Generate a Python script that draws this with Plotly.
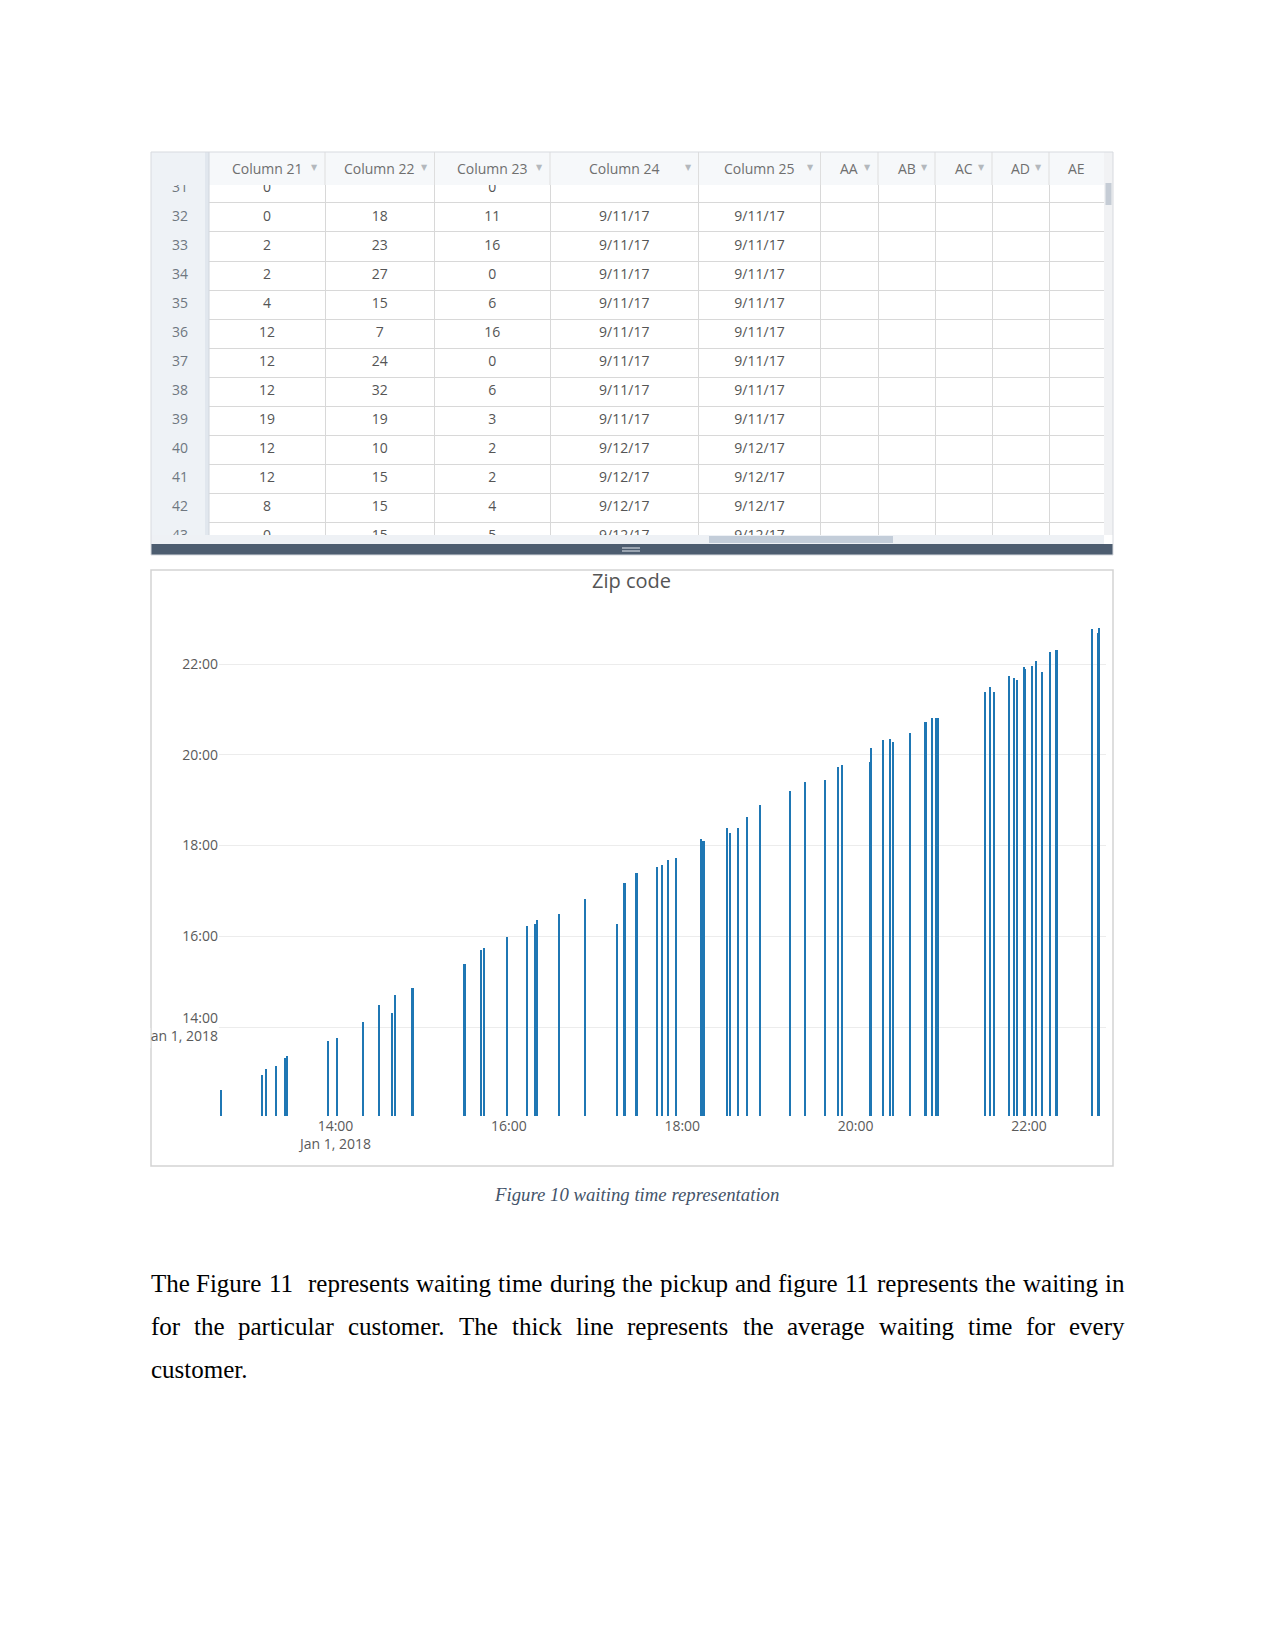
import plotly.graph_objects as go

W, H = 1275, 1650


def fx(p):
    return p / W


def fy(p):
    return 1 - p / H


# ---------------- Spreadsheet data ----------------
row_numbers = [31, 32, 33, 34, 35, 36, 37, 38, 39, 40, 41, 42, 43]
column_21 = ["0", "0", "2", "2", "4", "12", "12", "12", "19", "12", "12", "8", "0"]
column_22 = ["", "18", "23", "27", "15", "7", "24", "32", "19", "10", "15", "15", "15"]
column_23 = ["0", "11", "16", "0", "6", "16", "0", "6", "3", "2", "2", "4", "5"]
column_24 = ["", "9/11/17", "9/11/17", "9/11/17", "9/11/17", "9/11/17", "9/11/17",
             "9/11/17", "9/11/17", "9/12/17", "9/12/17", "9/12/17", "9/12/17"]
column_25 = ["", "9/11/17", "9/11/17", "9/11/17", "9/11/17", "9/11/17", "9/11/17",
             "9/11/17", "9/11/17", "9/12/17", "9/12/17", "9/12/17", "9/12/17"]
header_labels = ["Column 21", "Column 22", "Column 23", "Column 24", "Column 25",
                 "AA", "AB", "AC", "AD", "AE"]

# ---------------- Chart data (x: request time, y: pickup time) ----------------
request_time = [
    "12:41", "13:09", "13:12", "13:19", "13:25:30", "13:26:30", "13:55", "14:01",
    "14:19", "14:30", "14:39", "14:41", "14:53", "14:53:50", "15:29", "15:29:50",
    "15:41", "15:43", "15:59", "16:13", "16:18:30", "16:19:20", "16:35", "16:53",
    "17:15", "17:20", "17:20:50", "17:28", "17:28:50", "17:43", "17:46", "17:50",
    "17:56", "18:13", "18:14", "18:15", "18:31", "18:33", "18:39", "18:45",
    "18:54", "19:15", "19:25", "19:39", "19:48", "19:51", "20:10", "20:11",
    "20:19", "20:24", "20:26", "20:38", "20:48", "20:48:50", "20:53", "20:56",
    "20:56:50", "21:30", "21:33", "21:36", "21:46", "21:50", "21:52", "21:56:50",
    "21:57:40", "22:02", "22:05", "22:09", "22:15", "22:19", "22:19:50", "22:43:30",
    "22:48:10", "22:48:50",
]
pickup_time = [
    "12:37", "12:56", "13:04", "13:09", "13:19", "13:22", "13:41", "13:45",
    "14:06", "14:29", "14:19", "14:42", "14:51", "14:51", "15:23", "15:23",
    "15:42", "15:44", "15:59", "16:13", "16:16", "16:21", "16:29", "16:49",
    "16:16", "17:11", "17:11", "17:24", "17:24", "17:31", "17:34", "17:41",
    "17:44", "18:08", "18:06", "18:06", "18:23", "18:17", "18:23", "18:38",
    "18:54", "19:12", "19:24", "19:27", "19:44", "19:46", "19:51", "20:09",
    "20:19", "20:21", "20:17", "20:29", "20:43", "20:43", "20:48", "20:48",
    "20:48", "21:23", "21:29", "21:23", "21:44", "21:41", "21:39", "21:56",
    "21:53", "21:57", "22:04", "21:49", "22:16", "22:19", "22:19", "22:46",
    "22:41", "22:47",
]
DAY = "2018-01-01 "

# ---------------- Text ----------------
chart_title = "Zip code"
caption_text = "Figure 10 waiting time representation"
body_lines = [
    "The Figure 11  represents waiting time during the pickup and figure 11 represents the waiting in",
    "for the particular customer. The thick line represents the average waiting time for every",
    "customer.",
]
body_justified = [True, True, False]

# ---------------- Layout constants (pixels) ----------------
col_bounds = [209, 325, 434.5, 550, 698.5, 820.5, 878, 935, 992, 1049, 1104]
TEXT_LEFT, TEXT_RIGHT = 150.5, 1124.5
BODY_SIZE = 25
body_y = [1283.5, 1326.5, 1369.5]

# Times-Roman advance widths (per 1000 em) used for justifying body lines
TIMES_W = {
    " ": 250, ".": 250, "1": 500, "T": 611, "F": 556,
    "a": 444, "c": 444, "d": 500, "e": 444, "f": 333, "g": 500, "h": 500,
    "i": 278, "k": 500, "l": 278, "m": 778, "n": 500, "o": 500, "p": 500,
    "r": 333, "s": 389, "t": 278, "u": 500, "v": 500, "w": 722, "y": 500,
}


def word_width(word, size):
    return sum(TIMES_W.get(ch, 500) for ch in word) / 1000.0 * size


def layout_line(line, justify, size):
    tokens = line.split(" ")
    n_gaps = len(tokens) - 1
    space = TIMES_W[" "] / 1000.0 * size
    words_w = sum(word_width(t, size) for t in tokens)
    natural = words_w + n_gaps * space
    gap = space
    if justify and n_gaps > 0:
        gap = space + (TEXT_RIGHT - TEXT_LEFT - natural) / n_gaps
    out = []
    x = TEXT_LEFT
    for t in tokens:
        if t:
            out.append((t, x))
        x += word_width(t, size) + gap
    return out


UI_FONT = "Open Sans"
CELL_COLOR = "#555555"

fig = go.Figure()

# ---- spreadsheet cells ----
columns = [column_21, column_22, column_23, column_24, column_25]
for i, values in enumerate(columns):
    cx = (col_bounds[i] + col_bounds[i + 1]) / 2
    fig.add_trace(go.Scatter(
        x=[cx] * len(row_numbers), y=row_numbers, text=values, mode="text",
        textfont=dict(family=UI_FONT, size=14, color=CELL_COLOR),
        xaxis="x2", yaxis="y2", hoverinfo="skip", showlegend=False, cliponaxis=True,
    ))
fig.add_trace(go.Scatter(
    x=[0.5] * len(row_numbers), y=row_numbers, text=[str(r) for r in row_numbers],
    mode="text", textfont=dict(family=UI_FONT, size=14, color="#6f7780"),
    xaxis="x3", yaxis="y3", hoverinfo="skip", showlegend=False, cliponaxis=True,
))

# ---- bar chart ----
fig.add_trace(go.Bar(
    x=[DAY + t for t in request_time], y=[DAY + t for t in pickup_time],
    width=[60000] * len(request_time), marker=dict(color="#1f77b4", line=dict(width=0)),
    xaxis="x", yaxis="y", showlegend=False, hoverinfo="skip",
))

row_top, row_bottom = 30.88, 42.946
axis_font = dict(family=UI_FONT, size=14, color="#5a5a5a")

fig.update_layout(
    width=W, height=H, margin=dict(l=0, r=0, t=0, b=0),
    paper_bgcolor="white", plot_bgcolor="rgba(0,0,0,0)",
    showlegend=False, bargap=0,
    xaxis=dict(
        type="date", domain=[fx(219), fx(1106)],
        range=["2018-01-01 12:39:22", "2018-01-01 22:53:18"],
        tickmode="linear", tick0="2018-01-01 00:00", dtick=7200000,
        showgrid=False, zeroline=False, showline=False, ticks="",
        tickfont=axis_font, anchor="y", fixedrange=True,
    ),
    yaxis=dict(
        type="date", domain=[fy(1116), fy(600)],
        range=["2018-01-01 12:02:19", "2018-01-01 23:24:38"],
        tickmode="linear", tick0="2018-01-01 00:00", dtick=7200000,
        showgrid=True, gridcolor="#ececec", gridwidth=1, zeroline=False,
        showline=False, ticks="", tickfont=axis_font, anchor="x", fixedrange=True,
        ticklabelstandoff=0,
    ),
    xaxis2=dict(
        domain=[fx(209), fx(1104)], range=[209, 1104], anchor="y2",
        tickmode="array", tickvals=col_bounds[:-1], showgrid=True,
        gridcolor="#d8d8d8", gridwidth=1, showticklabels=False, zeroline=False,
        showline=False, ticks="", fixedrange=True,
    ),
    yaxis2=dict(
        domain=[fy(535), fy(185)], range=[row_bottom, row_top], anchor="x2",
        tickmode="array", tickvals=[r + 0.5 for r in row_numbers[:-1]],
        showgrid=True, gridcolor="#d8d8d8", gridwidth=1, showticklabels=False,
        zeroline=False, showline=False, ticks="", fixedrange=True,
    ),
    xaxis3=dict(domain=[fx(153), fx(207)], range=[0, 1], anchor="y3", visible=False,
                fixedrange=True),
    yaxis3=dict(domain=[fy(535), fy(185)], range=[row_bottom, row_top], anchor="x3",
                visible=False, fixedrange=True),
)

shapes = []


def rect(x0, y0, x1, y1, fill, line_color=None, line_width=0, layer="below"):
    shapes.append(dict(
        type="rect", xref="paper", yref="paper",
        x0=fx(x0), x1=fx(x1), y0=fy(y0), y1=fy(y1), fillcolor=fill,
        line=dict(width=line_width, color=line_color or fill), layer=layer,
    ))


# spreadsheet chrome
rect(151, 152, 1104, 185, "#f6f8fa")                      # header band
rect(151, 152, 205, 535, "#eef2f6")                        # row-number column
rect(205, 152, 209, 535, "#e1e7ee")                        # frozen column separator
rect(1104, 152, 1113, 535, "#f1f2f4")                      # vertical scroll track
rect(1105.5, 183, 1111.5, 205, "#c5ccd5")                  # vertical scroll thumb
rect(151, 535, 1104, 544, "#eef1f5")                       # horizontal scroll track
rect(709, 536, 893, 543, "#c3cdd9")                        # horizontal scroll thumb
rect(151, 544, 1113, 555, "#4d5d70")                       # splitter bar
for gy in (548, 551):
    shapes.append(dict(type="line", xref="paper", yref="paper", x0=fx(622), x1=fx(640),
                       y0=fy(gy), y1=fy(gy), line=dict(color="#e8edf2", width=1),
                       layer="above"))
for b in col_bounds[1:-1]:
    shapes.append(dict(type="line", xref="x2", yref="paper", x0=b, x1=b,
                       y0=fy(152), y1=fy(185), line=dict(color="#dedede", width=1),
                       layer="below"))
shapes.append(dict(type="line", xref="paper", yref="paper", x0=fx(209), x1=fx(209),
                   y0=fy(152), y1=fy(535), line=dict(color="#d0d6de", width=1),
                   layer="above"))
rect(151, 152, 1113, 555, "rgba(0,0,0,0)", "#d7dadf", 1, "above")   # table border
# chart frame
rect(151, 570, 1113, 1166, "rgba(0,0,0,0)", "#d3d3d3", 1.5, "below")
# screenshot crop edge hides the first letter of the y-axis date label
rect(120, 1028, 150.3, 1048, "white", None, 0, "above")

annotations = []
# header labels
for i, lab in enumerate(header_labels):
    cx = (col_bounds[i] + col_bounds[i + 1]) / 2
    annotations.append(dict(
        x=cx, y=fy(168.5), xref="x2", yref="paper", text=lab, showarrow=False,
        xanchor="center", yanchor="middle",
        font=dict(family=UI_FONT, size=14, color="#6f6f6f"),
    ))
    if i < len(header_labels) - 1:
        annotations.append(dict(
            x=col_bounds[i + 1] - 10.5, y=fy(168), xref="x2", yref="paper", text="▼",
            showarrow=False, xanchor="center", yanchor="middle",
            font=dict(family="DejaVu Sans", size=8, color="#b4b8bd"),
        ))

# chart title
annotations.append(dict(
    x=fx(631), y=fy(581), xref="paper", yref="paper", text=chart_title, showarrow=False,
    xanchor="center", yanchor="middle", font=dict(family=UI_FONT, size=20, color="#555555"),
))

# caption
annotations.append(dict(
    x=fx(636.5), y=fy(1194), xref="paper", yref="paper", text="<i>" + caption_text + "</i>",
    showarrow=False, xanchor="center", yanchor="middle",
    font=dict(family="Liberation Serif", size=18.75, color="#44546a"),
))

# body text (justified, word by word)
body_font = dict(family="Liberation Serif", size=BODY_SIZE, color="#000000")
for line, just, yy in zip(body_lines, body_justified, body_y):
    for w, xx in layout_line(line, just, BODY_SIZE):
        annotations.append(dict(
            x=fx(xx), y=fy(yy), xref="paper", yref="paper", text=w, showarrow=False,
            xanchor="left", yanchor="middle", font=body_font, borderpad=0, borderwidth=0,
        ))

fig.update_layout(shapes=shapes, annotations=annotations)
fig.write_html("out.html")
